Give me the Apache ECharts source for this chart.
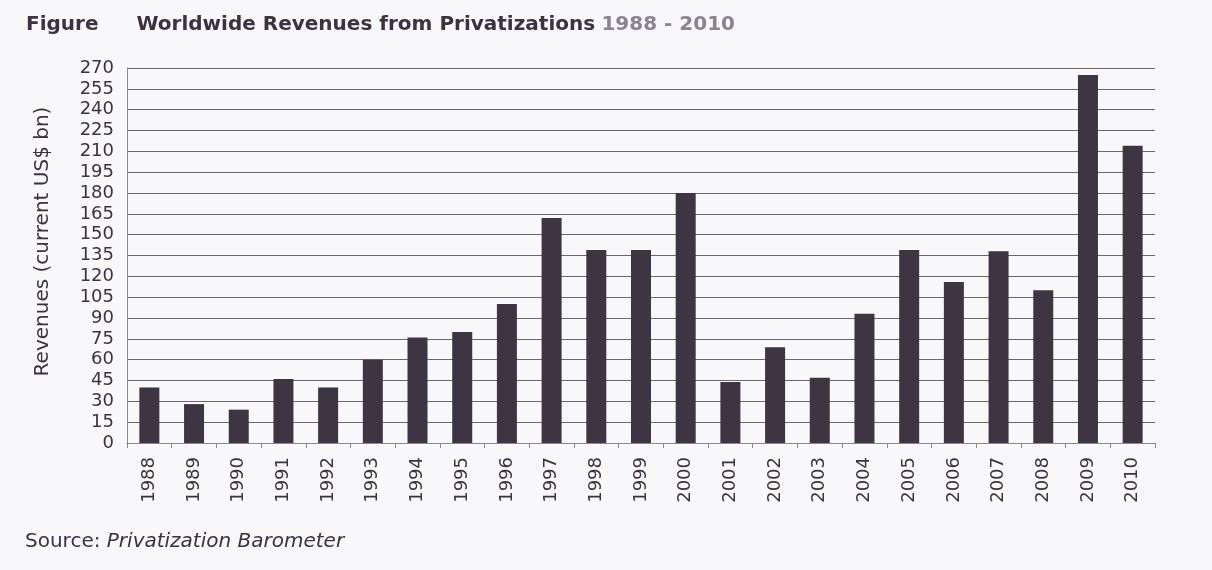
<!DOCTYPE html>
<html>
<head>
    <meta charset="utf-8">
    <script type="text/javascript" src="https://cdn.jsdelivr.net/npm/echarts@6/dist/echarts.min.js"></script>
</head>
<body style="margin: 0; background: #f8f7f9;">
    <div id="container" style="height: 570px; width: 1212px;"></div>
    <script type="text/javascript">
    // data
    var years = ['1988', '1989', '1990', '1991', '1992', '1993', '1994', '1995', '1996', '1997', '1998', '1999',
                 '2000', '2001', '2002', '2003', '2004', '2005', '2006', '2007', '2008', '2009', '2010'];
    var revenues = [40, 28, 24, 46, 40, 60, 76, 80, 100, 162, 139, 139,
                    180, 44, 69, 47, 93, 139, 116, 138, 110, 265, 214];
    var yMin = 0, yMax = 270, yStep = 15;

    var ink = '#3b3342';
    var font = 'DejaVu Sans';

    var myChart = echarts.init(document.getElementById('container'));
    var option = {
        backgroundColor: '#f8f7f9',
        textStyle: { fontFamily: font, color: ink },
        title: [{
            left: 21,
            top: 10,
            text: '{a|Figure}{gap|}{a|Worldwide Revenues from Privatizations} {b|1988 - 2010}',
            textStyle: {
                rich: {
                    a: { fontFamily: font, fontSize: 20, fontWeight: 'bold', color: ink },
                    b: { fontFamily: font, fontSize: 20, fontWeight: 'bold', color: '#8a8490' },
                    gap: { width: 38 }
                }
            }
        }, {
            left: 20,
            top: 527,
            text: '{a|Source: }{b|Privatization Barometer}',
            textStyle: {
                fontWeight: 'normal',
                rich: {
                    a: { fontFamily: font, fontSize: 20, fontWeight: 'normal', color: ink },
                    b: { fontFamily: font, fontSize: 20, fontWeight: 'normal', fontStyle: 'italic', color: ink }
                }
            }
        }],
        grid: {
            left: 127,
            right: 57,
            top: 68,
            bottom: 127
        },
        xAxis: {
            type: 'category',
            data: years,
            boundaryGap: true,
            axisLine: { lineStyle: { color: '#8c8592', width: 1 } },
            axisTick: { show: true, alignWithLabel: false, length: 5, lineStyle: { color: '#8c8592' } },
            axisLabel: {
                rotate: 90,
                interval: 0,
                fontSize: 18,
                color: ink,
                fontFamily: font,
                margin: 14
            }
        },
        yAxis: {
            type: 'value',
            min: yMin,
            max: yMax,
            interval: yStep,
            name: 'Revenues (current US$ bn)',
            nameLocation: 'middle',
            nameGap: 74,
            nameTextStyle: { fontSize: 20, color: ink, fontFamily: font, padding: [0, 0, 0, 28] },
            axisLine: { show: true, lineStyle: { color: '#8c8592', width: 1 } },
            axisTick: { show: false },
            axisLabel: { fontSize: 18, color: ink, fontFamily: font, margin: 13 },
            splitLine: { lineStyle: { color: '#6e6675', width: 1 } }
        },
        series: [{
            name: 'Revenues',
            type: 'bar',
            data: revenues,
            barWidth: 20,
            itemStyle: { color: '#3d3541' }
        }]
    };

    myChart.setOption(option);
    </script>
</body>
</html>
